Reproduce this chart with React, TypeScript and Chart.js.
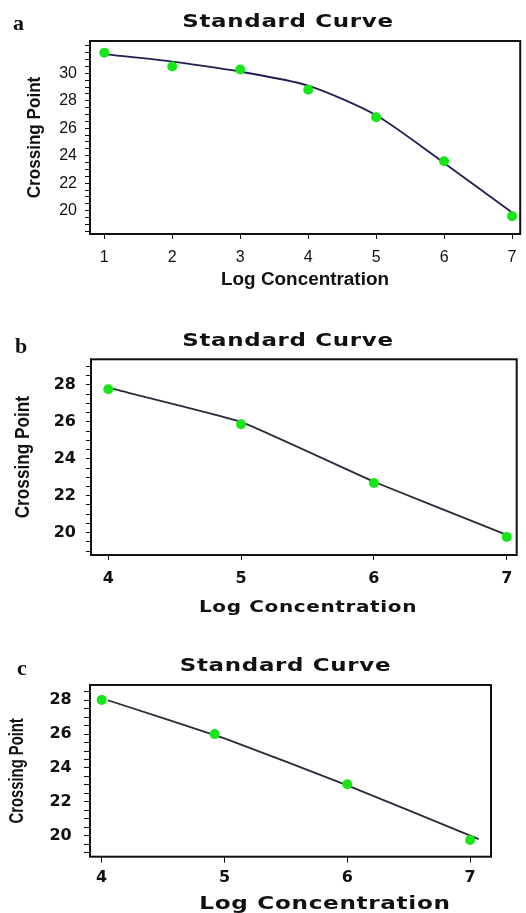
import React, { useEffect, useRef } from 'react';
import { Chart, registerables } from 'chart.js';

Chart.register(...registerables);

// ---------- Data: panel a ----------
const logConcA = [1, 2, 3, 4, 5, 6, 7];
const crossingA = [31.5, 30.5, 30.27, 28.8, 26.8, 23.6, 19.6];
const fitXA = [1, 2, 3, 4, 5, 6, 7];
const fitYA = [31.4, 30.85, 30.12, 29.1, 26.94, 23.47, 19.87];
const xTicksA = [1, 2, 3, 4, 5, 6, 7];
const yTicksA = [20, 22, 24, 26, 28, 30];

// ---------- Data: panel b ----------
const logConcB = [4, 5, 6, 7];
const crossingB = [27.77, 25.87, 22.69, 19.77];
const fitXB = [4, 5, 6, 7];
const fitYB = [27.85, 26.0, 22.76, 19.88];
const xTicksB = [4, 5, 6, 7];
const yTicksB = [20, 22, 24, 26, 28];

// ---------- Data: panel c ----------
const logConcC = [4, 4.92, 6, 7];
const crossingC = [28.02, 26.0, 23.04, 19.75];
const fitXC = [4.05, 5, 6, 7.07];
const fitYC = [28.0, 25.75, 22.97, 19.8];
const xTicksC = [4, 5, 6, 7];
const yTicksC = [20, 22, 24, 26, 28];

const TITLE = 'Standard Curve';
const X_TITLE = 'Log Concentration';
const Y_TITLE = 'Crossing Point';

type Font = { family: string; size: number; weight: string; lineHeight?: number };

type PanelProps = {
  top: number;
  height: number;
  xs: number[];
  ys: number[];
  fitX: number[];
  fitY: number[];
  xTicks: number[];
  yTicks: number[];
  xMin: number;
  xMax: number;
  yMin: number;
  yMax: number;
  boxLeft: number;
  boxBottom: number;
  padRight: number;
  titlePadTop: number;
  titlePadBottom: number;
  titleCx: number;
  titleSx: number;
  titleLs: number;
  xTitleFont: Font;
  xTitleCx: number;
  xTitleSx: number;
  xTitleLs: number;
  xTitlePadBottom: number;
  yTitleFont: Font;
  yTitlePadTop: number;
  yTitleSy: number;
  tickFont: Font;
  xTickPad: number;
  yTickPad: number;
  tickLen: number;
  lineColor: string;
  tension: number;
};

const GREEN = '#19e619';
const INK = '#111111';

function Panel(p: PanelProps) {
  const ref = useRef<HTMLCanvasElement>(null);

  useEffect(() => {
    if (!ref.current) return;

    const framePlugin = {
      id: 'frame',
      beforeDatasetsDraw(chart: any) {
        const { ctx, chartArea: a } = chart;
        ctx.save();
        ctx.strokeStyle = INK;
        ctx.lineWidth = 2;
        ctx.strokeRect(a.left, a.top, a.right - a.left, a.bottom - a.top);
        ctx.restore();
      },
    };

    const stretchPlugin = {
      id: 'stretchText',
      afterLayout(chart: any) {
        const ctx = chart.ctx;
        const tb = chart.titleBlock;
        if (tb && !tb.__stretched) {
          tb.__stretched = true;
          const orig = tb.draw.bind(tb);
          tb.draw = (area: any) => {
            const c0 = (tb.left + tb.right) / 2;
            ctx.save();
            ctx.translate(p.titleCx, 0);
            ctx.scale(p.titleSx, 1);
            ctx.translate(-c0, 0);
            (ctx as any).letterSpacing = p.titleLs + 'px';
            orig(area);
            ctx.restore();
          };
        }
        const xs = chart.scales.x;
        if (xs && !xs.__stretched) {
          xs.__stretched = true;
          const origT = xs.drawTitle.bind(xs);
          xs.drawTitle = () => {
            const c0 = (xs.left + xs.right) / 2;
            ctx.save();
            ctx.translate(p.xTitleCx, 0);
            ctx.scale(p.xTitleSx, 1);
            ctx.translate(-c0, 0);
            (ctx as any).letterSpacing = p.xTitleLs + 'px';
            origT();
            ctx.restore();
          };
        }
        const ys = chart.scales.y;
        if (ys && !ys.__stretched) {
          ys.__stretched = true;
          const origY = ys.drawTitle.bind(ys);
          ys.drawTitle = () => {
            const cy = (ys.top + ys.bottom) / 2;
            ctx.save();
            ctx.translate(0, cy);
            ctx.scale(1, p.yTitleSy);
            ctx.translate(0, -cy);
            origY();
            ctx.restore();
          };
        }
      },
    };

    const chart = new Chart(ref.current, {
      type: 'scatter',
      data: {
        datasets: [
          {
            label: 'Crossing point',
            data: p.xs.map((x, i) => ({ x, y: p.ys[i] })),
            showLine: false,
            pointStyle: 'circle',
            pointRadius: 5,
            pointBackgroundColor: GREEN,
            pointBorderWidth: 0,
            clip: false as any,
          },
          {
            label: 'Fit',
            data: p.fitX.map((x, i) => ({ x, y: p.fitY[i] })),
            showLine: true,
            borderColor: p.lineColor,
            borderWidth: 1.8,
            pointRadius: 0,
            tension: p.tension,
            clip: false as any,
          },
        ],
      },
      options: {
        animation: false,
        responsive: false,
        events: [],
        layout: { padding: { left: 0, right: p.padRight, top: 0, bottom: 0 } },
        plugins: {
          legend: { display: false },
          tooltip: { enabled: false },
          title: {
            display: true,
            text: TITLE,
            color: INK,
            font: { family: 'DejaVu Sans', weight: 'bold', size: 17, lineHeight: 1.2 },
            padding: { top: p.titlePadTop, bottom: p.titlePadBottom },
          },
        },
        scales: {
          x: {
            type: 'linear',
            min: p.xMin,
            max: p.xMax,
            afterFit: (s: any) => {
              s.height = p.height - p.boxBottom;
            },
            border: { display: false },
            grid: {
              drawOnChartArea: false,
              drawTicks: true,
              tickLength: p.tickLen,
              tickColor: INK,
              tickWidth: 1,
            },
            ticks: {
              stepSize: 1,
              includeBounds: false,
              autoSkip: false,
              maxRotation: 0,
              padding: p.xTickPad,
              color: INK,
              font: p.tickFont,
              callback: (v: any) => (p.xTicks.includes(Number(v)) ? String(v) : ''),
            },
            title: {
              display: true,
              text: X_TITLE,
              color: INK,
              font: p.xTitleFont,
              padding: { top: 0, bottom: p.xTitlePadBottom },
            },
          },
          y: {
            type: 'linear',
            min: p.yMin,
            max: p.yMax,
            afterFit: (s: any) => {
              s.width = p.boxLeft;
            },
            border: { display: false },
            grid: {
              drawOnChartArea: false,
              drawTicks: true,
              tickLength: p.tickLen,
              tickColor: INK,
              tickWidth: 1,
            },
            ticks: {
              stepSize: 0.5,
              includeBounds: false,
              autoSkip: false,
              padding: p.yTickPad,
              color: INK,
              font: p.tickFont,
              callback: (v: any) => (p.yTicks.includes(Number(v)) ? String(v) : ''),
            },
            title: {
              display: true,
              text: Y_TITLE,
              color: INK,
              font: p.yTitleFont,
              padding: { top: p.yTitlePadTop, bottom: 0 },
            },
          },
        },
      } as any,
      plugins: [framePlugin, stretchPlugin],
    });

    return () => chart.destroy();
  }, []);

  return (
    <canvas
      ref={ref}
      width={526}
      height={p.height}
      style={{ position: 'absolute', left: 0, top: p.top, width: 526, height: p.height, display: 'block' }}
    />
  );
}

const letterStyle = (left: number, top: number): React.CSSProperties => ({
  position: 'absolute',
  left,
  top,
  fontFamily: "'Liberation Serif', 'Times New Roman', serif",
  fontWeight: 'bold',
  fontSize: 22,
  lineHeight: '22px',
  color: INK,
});

export default function App() {
  const sansBold = (size: number, lh = 1.2): Font => ({
    family: "'Liberation Sans', Arial, sans-serif",
    size,
    weight: 'bold',
    lineHeight: lh,
  });
  const dejaBold = (size: number, lh = 1.2): Font => ({
    family: "'DejaVu Sans', sans-serif",
    size,
    weight: 'bold',
    lineHeight: lh,
  });
  const sansReg = (size: number): Font => ({
    family: "'Liberation Sans', Arial, sans-serif",
    size,
    weight: 'normal',
    lineHeight: 1.2,
  });

  return (
    <div
      style={{
        position: 'fixed',
        left: 0,
        top: 0,
        width: 526,
        height: 913,
        overflow: 'hidden',
        background: '#ffffff',
      }}
    >
      <Panel
        top={0}
        height={292}
        xs={logConcA}
        ys={crossingA}
        fitX={fitXA}
        fitY={fitYA}
        xTicks={xTicksA}
        yTicks={yTicksA}
        xMin={0.79}
        xMax={7.12}
        yMin={18.3}
        yMax={32.35}
        boxLeft={90}
        boxBottom={234}
        padRight={4}
        titlePadTop={12.8}
        titlePadBottom={7.8}
        titleCx={288}
        titleSx={1.35}
        titleLs={0.5}
        xTitleFont={sansBold(18)}
        xTitleCx={305}
        xTitleSx={1.05}
        xTitleLs={0}
        xTitlePadBottom={1.2}
        yTitleFont={sansBold(18)}
        yTitlePadTop={24.7}
        yTitleSy={0.95}
        tickFont={sansReg(16)}
        xTickPad={9.4}
        yTickPad={8}
        tickLen={5}
        lineColor="#1f1f52"
        tension={0.25}
      />
      <Panel
        top={300}
        height={320}
        xs={logConcB}
        ys={crossingB}
        fitX={fitXB}
        fitY={fitYB}
        xTicks={xTicksB}
        yTicks={yTicksB}
        xMin={3.87}
        xMax={7.075}
        yMin={18.79}
        yMax={29.39}
        boxLeft={91}
        boxBottom={255}
        padRight={9.3}
        titlePadTop={31.5}
        titlePadBottom={7.4}
        titleCx={288}
        titleSx={1.35}
        titleLs={0.5}
        xTitleFont={dejaBold(16)}
        xTitleCx={308}
        xTitleSx={1.25}
        xTitleLs={0.5}
        xTitlePadBottom={2.4}
        yTitleFont={sansBold(20)}
        yTitlePadTop={11}
        yTitleSy={0.86}
        tickFont={dejaBold(16)}
        xTickPad={9.4}
        yTickPad={10}
        tickLen={5}
        lineColor="#2a2a3a"
        tension={0.1}
      />
      <Panel
        top={620}
        height={300}
        xs={logConcC}
        ys={crossingC}
        fitX={fitXC}
        fitY={fitYC}
        xTicks={xTicksC}
        yTicks={yTicksC}
        xMin={3.905}
        xMax={7.17}
        yMin={18.76}
        yMax={28.9}
        boxLeft={90}
        boxBottom={236.7}
        padRight={35}
        titlePadTop={36.5}
        titlePadBottom={8.1}
        titleCx={285.5}
        titleSx={1.35}
        titleLs={0.5}
        xTitleFont={dejaBold(17)}
        xTitleCx={325}
        xTitleSx={1.36}
        xTitleLs={0.5}
        xTitlePadBottom={4.8}
        yTitleFont={sansBold(20)}
        yTitlePadTop={5.5}
        yTitleSy={0.74}
        tickFont={dejaBold(16)}
        xTickPad={5.7}
        yTickPad={12.3}
        tickLen={6}
        lineColor="#2a2a3a"
        tension={0.1}
      />
      <div style={letterStyle(13, 11.6)}>a</div>
      <div style={letterStyle(15, 334.6)}>b</div>
      <div style={letterStyle(17, 656.6)}>c</div>
    </div>
  );
}
